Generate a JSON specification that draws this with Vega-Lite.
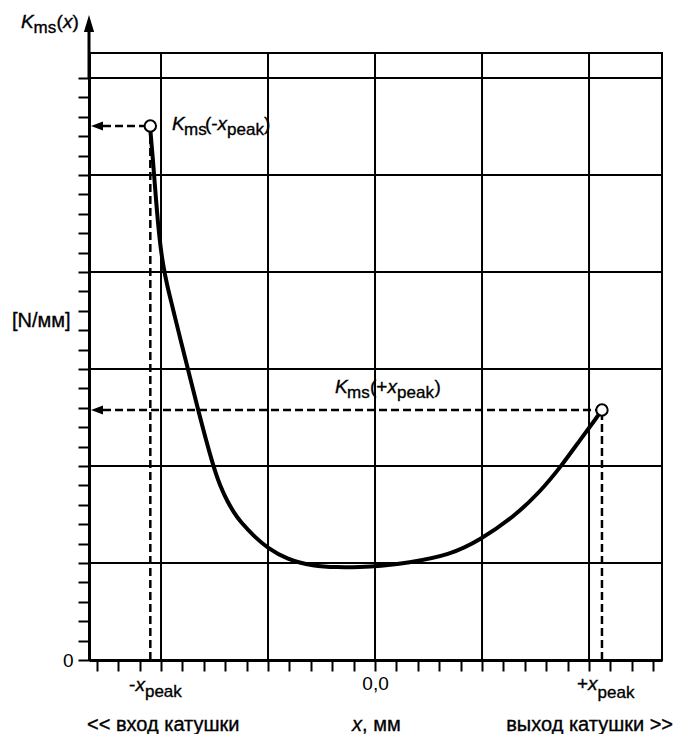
{
  "$schema": "https://vega.github.io/schema/vega-lite/v6.json",
  "width": 573,
  "height": 607,
  "autosize": {"type": "none"},
  "padding": {"left": 89, "top": 53, "right": 13, "bottom": 74},
  "background": "white",
  "config": {
    "view": {"stroke": "black", "strokeWidth": 2},
    "font": "Liberation Sans",
    "text": {"font": "Liberation Sans", "color": "black", "stroke": "black", "strokeWidth": 0.35}
  },
  "datasets": {
    "curve": [
      {"x": -2.103, "y": 5.505}, {"x": -2.075, "y": 5.155}, {"x": -2.047, "y": 4.742},
      {"x": -2.014, "y": 4.33}, {"x": -1.981, "y": 4.072}, {"x": -1.944, "y": 3.866},
      {"x": -1.897, "y": 3.66}, {"x": -1.822, "y": 3.32}, {"x": -1.748, "y": 3.0},
      {"x": -1.654, "y": 2.577}, {"x": -1.514, "y": 2.0}, {"x": -1.449, "y": 1.8},
      {"x": -1.383, "y": 1.64}, {"x": -1.318, "y": 1.52}, {"x": -1.262, "y": 1.43},
      {"x": -1.121, "y": 1.265}, {"x": -1.009, "y": 1.16}, {"x": -0.822, "y": 1.035},
      {"x": -0.579, "y": 0.969}, {"x": -0.355, "y": 0.955}, {"x": -0.14, "y": 0.958},
      {"x": 0.047, "y": 0.969}, {"x": 0.299, "y": 1.0}, {"x": 0.701, "y": 1.082},
      {"x": 0.981, "y": 1.237}, {"x": 1.29, "y": 1.47}, {"x": 1.542, "y": 1.732},
      {"x": 1.748, "y": 2.01}, {"x": 1.916, "y": 2.268}, {"x": 2.075, "y": 2.505},
      {"x": 2.121, "y": 2.577}
    ],
    "peaks": [{"x": -2.1, "y": 5.505}, {"x": 2.121, "y": 2.577}],
    "vgrid": [
      {"x": -2, "y": 0, "y2": 6.258}, {"x": -1, "y": 0, "y2": 6.258}, {"x": 0, "y": 0, "y2": 6.258},
      {"x": 1, "y": 0, "y2": 6.258}, {"x": 2, "y": 0, "y2": 6.258}
    ],
    "hgrid": [
      {"y": 1, "x": -2.673, "x2": 2.682}, {"y": 2, "x": -2.673, "x2": 2.682}, {"y": 3, "x": -2.673, "x2": 2.682},
      {"y": 4, "x": -2.673, "x2": 2.682}, {"y": 5, "x": -2.673, "x2": 2.682}, {"y": 6, "x": -2.673, "x2": 2.682}
    ],
    "vdash": [{"x": -2.1, "y": 0, "y2": 5.505}, {"x": 2.121, "y": 0, "y2": 2.577}],
    "hdash": [{"y": 5.505, "x": -2.542, "x2": -2.1}, {"y": 2.577, "x": -2.542, "x2": 2.121}],
    "arrows": [{"x": -2.598, "y": 5.505}, {"x": -2.598, "y": 2.577}],
    "yaxisext": [{"x": -2.673, "y": 6.0, "y2": 6.5}],
    "yarrow": [{"x": -2.673, "y": 6.562}],
    "labels": [
      {"x": -3.308, "y": 6.515, "t": "K", "k": "it"},
      {"x": -3.191, "y": 6.464, "t": "ms", "k": "sub"},
      {"x": -2.977, "y": 6.515, "t": "(", "k": "main"},
      {"x": -2.916, "y": 6.515, "t": "x", "k": "it"},
      {"x": -2.827, "y": 6.515, "t": ")", "k": "main"},
      {"x": -3.393, "y": 3.433, "t": "[N/мм]", "k": "bottom"},
      {"x": -2.299, "y": -0.32, "t": "-", "k": "main"},
      {"x": -2.238, "y": -0.32, "t": "x", "k": "it"},
      {"x": -2.15, "y": -0.381, "t": "peak", "k": "sub"},
      {"x": 1.888, "y": -0.309, "t": "+", "k": "main"},
      {"x": 1.991, "y": -0.309, "t": "x", "k": "it"},
      {"x": 2.08, "y": -0.392, "t": "peak", "k": "sub"},
      {"x": -1.897, "y": 5.464, "t": "K", "k": "it"},
      {"x": -1.785, "y": 5.412, "t": "ms", "k": "sub"},
      {"x": -1.589, "y": 5.464, "t": "(-", "k": "main"},
      {"x": -1.472, "y": 5.464, "t": "x", "k": "it"},
      {"x": -1.383, "y": 5.412, "t": "peak", "k": "sub"},
      {"x": -1.037, "y": 5.464, "t": ")", "k": "main"},
      {"x": -0.374, "y": 2.753, "t": "K", "k": "it"},
      {"x": -0.262, "y": 2.701, "t": "ms", "k": "sub"},
      {"x": -0.047, "y": 2.753, "t": "(+", "k": "main"},
      {"x": 0.117, "y": 2.753, "t": "x", "k": "it"},
      {"x": 0.206, "y": 2.701, "t": "peak", "k": "sub"},
      {"x": 0.556, "y": 2.753, "t": ")", "k": "main"},
      {"x": -2.692, "y": -0.732, "t": "<< вход катушки", "k": "bottom"},
      {"x": -0.215, "y": -0.732, "t": "x", "k": "bottomit"},
      {"x": -0.121, "y": -0.732, "t": ", мм", "k": "bottom"},
      {"x": 2.785, "y": -0.732, "t": "выход катушки >>", "k": "bottomright"}
    ]
  },
  "encoding": {
    "x": {
      "field": "x", "type": "quantitative",
      "scale": {"domain": [-2.673, 2.682], "nice": false, "zero": false},
      "axis": {
        "title": null,
        "values": [-2.6, -2.4, -2.2, -2, -1.8, -1.6, -1.4, -1.2, -1, -0.8, -0.6, -0.4, -0.2, 0, 0.2, 0.4, 0.6, 0.8, 1, 1.2, 1.4, 1.6, 1.8, 2, 2.2, 2.4, 2.6],
        "labelExpr": "datum.value == 0 ? '0,0' : ''",
        "labelFont": "Liberation Sans", "labelFontSize": 19, "labelColor": "black",
        "labelPadding": 3, "labelOverlap": false, "labelFlush": false, "labelDx": -3,
        "grid": false, "tickSize": 11, "tickWidth": 2, "tickColor": "black",
        "domainColor": "black", "domainWidth": 3
      }
    },
    "y": {
      "field": "y", "type": "quantitative",
      "scale": {"domain": [0, 6.258], "nice": false, "zero": false},
      "axis": {
        "title": null,
        "values": [0, 0.2, 0.4, 0.6, 0.8, 1, 1.2, 1.4, 1.6, 1.8, 2, 2.2, 2.4, 2.6, 2.8, 3, 3.2, 3.4, 3.6, 3.8, 4, 4.2, 4.4, 4.6, 4.8, 5, 5.2, 5.4, 5.6, 5.8, 6],
        "labelExpr": "datum.value == 0 ? '0' : ''",
        "labelFont": "Liberation Sans", "labelFontSize": 19, "labelColor": "black",
        "labelPadding": 5, "labelOverlap": false, "labelFlush": false,
        "grid": false, "tickSize": 11, "tickWidth": 2, "tickColor": "black",
        "domainColor": "black", "domainWidth": 3
      }
    }
  },
  "layer": [
    {
      "data": {"name": "vgrid"},
      "mark": {"type": "rule", "color": "black", "strokeWidth": 2},
      "encoding": {"y2": {"field": "y2"}}
    },
    {
      "data": {"name": "hgrid"},
      "mark": {"type": "rule", "color": "black", "strokeWidth": 2},
      "encoding": {"x2": {"field": "x2"}}
    },
    {
      "data": {"name": "yaxisext"},
      "mark": {"type": "rule", "color": "black", "strokeWidth": 3, "clip": false},
      "encoding": {"y2": {"field": "y2"}}
    },
    {
      "data": {"name": "yarrow"},
      "mark": {"type": "point", "shape": "M0,-1L-0.6,1L0.6,1Z", "filled": true, "color": "black", "size": 289, "opacity": 1, "clip": false},
      "encoding": {}
    },
    {
      "data": {"name": "vdash"},
      "mark": {"type": "rule", "color": "black", "strokeWidth": 2.5, "strokeDash": [8, 4]},
      "encoding": {"y2": {"field": "y2"}}
    },
    {
      "data": {"name": "hdash"},
      "mark": {"type": "rule", "color": "black", "strokeWidth": 2.5, "strokeDash": [8, 4]},
      "encoding": {"x2": {"field": "x2"}}
    },
    {
      "data": {"name": "arrows"},
      "mark": {"type": "point", "shape": "M-1,0L1,-0.75L1,0.75Z", "filled": true, "color": "black", "size": 144, "opacity": 1},
      "encoding": {}
    },
    {
      "data": {"name": "curve"},
      "mark": {"type": "line", "color": "black", "strokeWidth": 4, "interpolate": "basis"},
      "encoding": {}
    },
    {
      "data": {"name": "peaks"},
      "mark": {"type": "point", "shape": "circle", "filled": true, "fill": "white", "stroke": "black", "strokeWidth": 2, "size": 130, "opacity": 1},
      "encoding": {}
    },
    {
      "data": {"name": "labels"},
      "transform": [{"filter": "datum.k == 'main'"}],
      "mark": {"type": "text", "align": "left", "baseline": "alphabetic", "fontSize": 19},
      "encoding": {"text": {"field": "t"}}
    },
    {
      "data": {"name": "labels"},
      "transform": [{"filter": "datum.k == 'it'"}],
      "mark": {"type": "text", "align": "left", "baseline": "alphabetic", "fontSize": 19, "fontStyle": "italic"},
      "encoding": {"text": {"field": "t"}}
    },
    {
      "data": {"name": "labels"},
      "transform": [{"filter": "datum.k == 'sub'"}],
      "mark": {"type": "text", "align": "left", "baseline": "alphabetic", "fontSize": 17},
      "encoding": {"text": {"field": "t"}}
    },
    {
      "data": {"name": "labels"},
      "transform": [{"filter": "datum.k == 'bottom'"}],
      "mark": {"type": "text", "align": "left", "baseline": "alphabetic", "fontSize": 20},
      "encoding": {"text": {"field": "t"}}
    },
    {
      "data": {"name": "labels"},
      "transform": [{"filter": "datum.k == 'bottomit'"}],
      "mark": {"type": "text", "align": "left", "baseline": "alphabetic", "fontSize": 20, "fontStyle": "italic"},
      "encoding": {"text": {"field": "t"}}
    },
    {
      "data": {"name": "labels"},
      "transform": [{"filter": "datum.k == 'bottomright'"}],
      "mark": {"type": "text", "align": "right", "baseline": "alphabetic", "fontSize": 20},
      "encoding": {"text": {"field": "t"}}
    }
  ]
}
